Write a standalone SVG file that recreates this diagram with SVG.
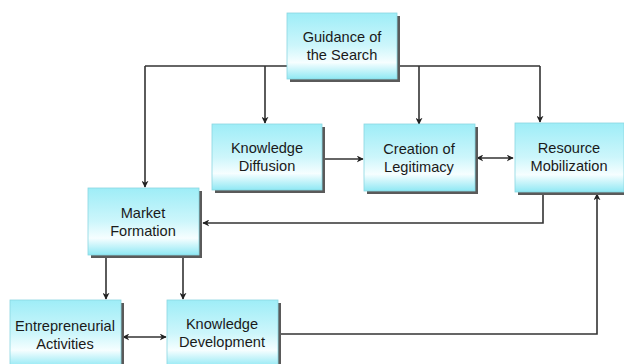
<svg xmlns="http://www.w3.org/2000/svg" width="624" height="364" viewBox="0 0 624 364">
<style>
.box{fill:url(#g);stroke:#8ad6e0;stroke-width:0.8}
.sh{fill:#5a5a5a}
.t{font-family:"Liberation Sans",Arial,sans-serif;font-size:14.6px;fill:#1a1a1a;text-anchor:middle}
.c{fill:none;stroke:#333;stroke-width:1.6}
</style>
<defs>
<linearGradient id="g" x1="0" y1="0" x2="0" y2="1">
<stop offset="0" stop-color="#9eedf7"/>
<stop offset="0.5" stop-color="#cdf6fb"/>
<stop offset="0.75" stop-color="#f6feff"/>
<stop offset="1" stop-color="#8fe8f4"/>
</linearGradient>
<marker id="a" viewBox="0 0 10 10" refX="9" refY="5" markerWidth="7" markerHeight="7" orient="auto-start-reverse" markerUnits="userSpaceOnUse">
<path d="M0,0 L10,5 L0,10 L3,5 Z" fill="#222"/>
</marker>
</defs>
<g id="connectors">
<path class="c" d="M145,66 H540"/>
<path class="c" d="M145,66 V187" marker-end="url(#a)"/>
<path class="c" d="M265,66 V123" marker-end="url(#a)"/>
<path class="c" d="M419,66 V124" marker-end="url(#a)"/>
<path class="c" d="M540,66 V122" marker-end="url(#a)"/>
<path class="c" d="M323,159 H363" marker-end="url(#a)"/>
<path class="c" d="M477,158 H513" marker-start="url(#a)" marker-end="url(#a)"/>
<path class="c" d="M543,193 V223 H203" marker-end="url(#a)"/>
<path class="c" d="M106,257 V299" marker-end="url(#a)"/>
<path class="c" d="M183,257 V299" marker-end="url(#a)"/>
<path class="c" d="M123,337 H166" marker-start="url(#a)" marker-end="url(#a)"/>
<path class="c" d="M280,334 H597 V194" marker-end="url(#a)"/>
</g>
<g id="guidance">
<rect class="sh" x="290" y="16" width="110" height="66"/>
<rect class="box" x="287" y="13" width="110" height="66"/>
<text class="t" x="342" y="42">Guidance of</text>
<text class="t" x="342" y="60">the Search</text>
</g>
<g id="knowledge-diffusion">
<rect class="sh" x="215" y="127" width="110" height="66"/>
<rect class="box" x="212" y="124" width="110" height="66"/>
<text class="t" x="267" y="153">Knowledge</text>
<text class="t" x="267" y="171">Diffusion</text>
</g>
<g id="creation-of-legitimacy">
<rect class="sh" x="367" y="127" width="111" height="67"/>
<rect class="box" x="364" y="124" width="111" height="67"/>
<text class="t" x="419" y="154">Creation of</text>
<text class="t" x="419" y="172">Legitimacy</text>
</g>
<g id="resource-mobilization">
<rect class="sh" x="518" y="126" width="110" height="69"/>
<rect class="box" x="515" y="123" width="109" height="69"/>
<text class="t" x="569" y="153">Resource</text>
<text class="t" x="569" y="171">Mobilization</text>
</g>
<g id="market-formation">
<rect class="sh" x="91" y="191" width="111" height="67"/>
<rect class="box" x="88" y="188" width="111" height="67"/>
<text class="t" x="143" y="218">Market</text>
<text class="t" x="143" y="236">Formation</text>
</g>
<g id="entrepreneurial-activities">
<rect class="sh" x="13" y="303" width="111" height="67"/>
<rect class="box" x="10" y="300" width="111" height="67"/>
<text class="t" x="65" y="331">Entrepreneurial</text>
<text class="t" x="65" y="349">Activities</text>
</g>
<g id="knowledge-development">
<rect class="sh" x="170" y="303" width="111" height="67"/>
<rect class="box" x="167" y="300" width="111" height="67"/>
<text class="t" x="222" y="329">Knowledge</text>
<text class="t" x="222" y="347">Development</text>
</g>
</svg>
